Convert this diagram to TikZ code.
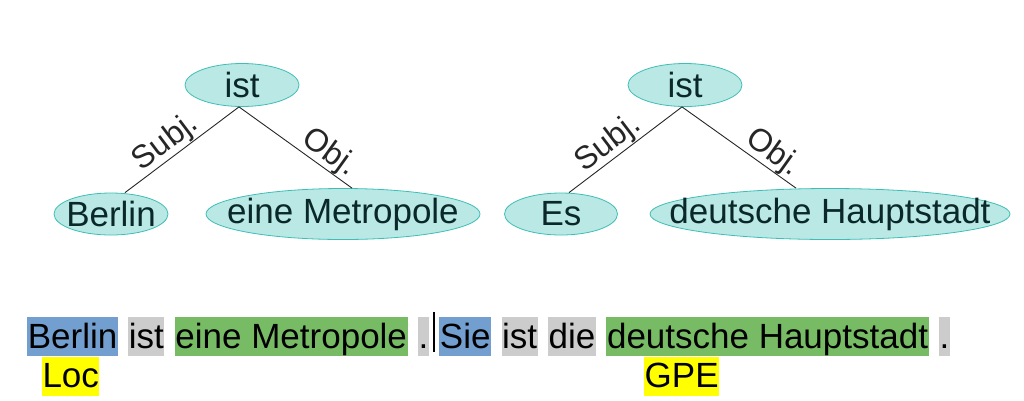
\documentclass[tikz,border=0pt]{standalone}
\usepackage{fontspec}
\setmainfont{Liberation Sans}
\usepackage{tikz}
\usetikzlibrary{positioning,shapes.geometric}
\definecolor{wfill}{RGB}{185,232,229}
\definecolor{wline}{RGB}{62,190,182}
\definecolor{wtext}{RGB}{10,40,40}
\definecolor{entblue}{RGB}{114,159,207}
\definecolor{tokgray}{RGB}{204,204,204}
\definecolor{npgreen}{RGB}{119,188,101}
\definecolor{tagyellow}{RGB}{255,255,0}
\newcommand{\bigfont}{\fontsize{35}{42}\selectfont}
\newcommand{\relfont}{\fontsize{32}{38}\selectfont}
\tikzset{
  word/.style={ellipse,draw=wline,fill=wfill,text=wtext,font=\bigfont,inner xsep=-40pt,inner ysep=-20pt,line width=0.8pt},
  rel/.style={font=\relfont,sloped,above,inner sep=0pt},
  tok/.style={font=\bigfont,inner xsep=0.6pt,inner ysep=0pt,text height=31pt,text depth=8pt},
  dep/.style={line width=0.9pt,black!85}
}

\begin{document}
\begin{tikzpicture}[x=1pt,y=-1pt]
  \useasboundingbox (0,0) rectangle (1024,400);
  \node[word,minimum width=114,minimum height=43] (ista) at (242,85) {ist};
  \node[word,minimum width=114,minimum height=42] (berlin) at (111,214) {Berlin};
  \node[word,minimum width=274,minimum height=51] (metro) at (343,214) {eine Metropole};
  \draw[dep] ([xshift=14pt]berlin.north) -- ([xshift=-3pt]ista.south) node[rel,pos=0.44] {Subj.};
  \draw[dep] ([xshift=-3pt]ista.south) -- ([xshift=9pt]metro.north) node[rel,pos=0.72] {Obj.};
  \node[word,minimum width=114,minimum height=43] (istb) at (685,85) {ist};
  \node[word,minimum width=113,minimum height=42] (es) at (561,214) {Es};
  \node[word,minimum width=360,minimum height=51] (haupt) at (830,214) {deutsche Hauptstadt};
  \draw[dep] ([xshift=8pt]es.north) -- ([xshift=-3pt]istb.south) node[rel,pos=0.43] {Subj.};
  \draw[dep] ([xshift=-3pt]istb.south) -- ([xshift=-34pt]haupt.north) node[rel,pos=0.72] {Obj.};
  \node[tok,fill=entblue,anchor=north west] (t1) at (27,317) {Berlin};
  \node[tok,fill=tokgray,right=10pt of t1] (t2) {ist};
  \node[tok,fill=npgreen,right=10pt of t2] (t3) {eine Metropole};
  \node[tok,fill=tokgray,right=10pt of t3] (t4) {.};
  \node[tok,fill=entblue,right=10pt of t4] (t5) {Sie};
  \node[tok,fill=tokgray,right=10pt of t5] (t6) {ist};
  \node[tok,fill=tokgray,right=10pt of t6] (t7) {die};
  \node[tok,fill=npgreen,right=10pt of t7] (t8) {deutsche Hauptstadt};
  \node[tok,fill=tokgray,right=10pt of t8] (t9) {.};
  \draw[line width=1.3pt] ([xshift=5pt,yshift=5pt]t4.north east) -- ([xshift=5pt,yshift=4pt]t4.south east);
  \node[tok,fill=tagyellow,inner xsep=0.3pt,anchor=north west] (loc) at ([xshift=15pt]t1.south west) {Loc};
  \node[tok,fill=tagyellow,inner xsep=0.3pt,anchor=north west] (gpe) at ([xshift=38pt]t8.south west) {GPE};
\end{tikzpicture}
\end{document}
